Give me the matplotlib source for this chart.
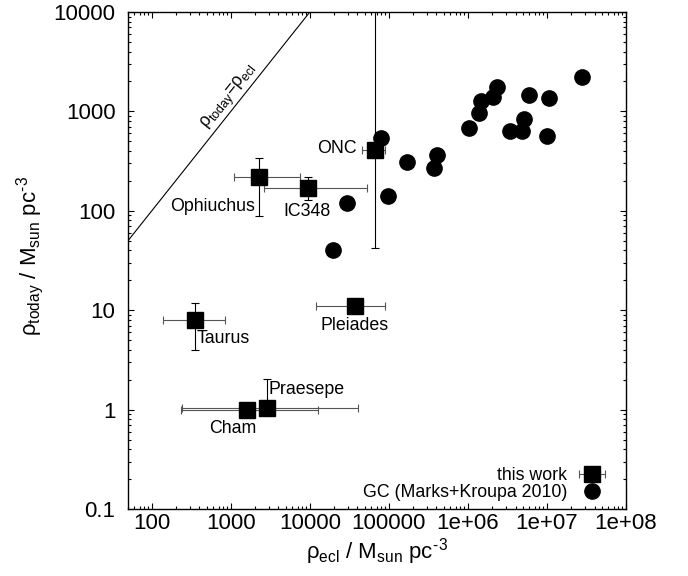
import numpy as np
import matplotlib
matplotlib.use('Agg')
import matplotlib.pyplot as plt
from matplotlib.container import ErrorbarContainer
from matplotlib.legend_handler import HandlerErrorbar

plt.rcParams['font.family'] = ['Liberation Sans', 'DejaVu Sans']
plt.rcParams['mathtext.default'] = 'regular'

# this work: clusters, rho_ecl (with range) and rho_today (with range)
names = ['Taurus', 'Ophiuchus', 'IC348', 'ONC', 'Pleiades', 'Cham', 'Praesepe']
rho_ecl = [350, 2300, 9500, 67000, 37300, 1590, 2850]
rho_ecl_lo = [140, 1100, 2640, 45800, 12000, 234, 239]
rho_ecl_hi = [845, 7500, 53000, 89500, 89500, 12700, 40500]
rho_today = [8.0, 220, 170, 410, 11.0, 0.99, 1.04]
rho_today_lo = [4.0, 89, 128, 42, 11.0, 0.99, 1.04]
rho_today_hi = [11.9, 340, 219, 30000, 11.0, 0.99, 2.03]

# globular clusters (Marks+Kroupa 2010)
gc_ecl = [79000, 169000, 404000, 373000, 98600, 29900, 19900, 1.045e6, 1.39e6,
          1.46e6, 2.07e6, 2.32e6, 6.0e6, 1.05e7, 3.42e6, 4.82e6, 5.05e6, 9.98e6, 2.77e7]
gc_today = [543, 312, 364, 271, 141, 121, 40, 676, 970,
            1273, 1406, 1747, 1462, 1374, 640, 640, 839, 566, 2234]

xticks = [100, 1000, 10000, 100000, 1e6, 1e7, 1e8]
xticklabels = ['100', '1000', '10000', '100000', '1e+06', '1e+07', '1e+08']
yticks = [0.1, 1, 10, 100, 1000, 10000]
yticklabels = ['0.1', '1', '10', '100', '1000', '10000']

# label offsets (pixels) and alignment
lab_off = {'Taurus': (2, -19, 'left'), 'Ophiuchus': (-4, -30, 'right'),
           'IC348': (-1, -24, 'center'), 'ONC': (-18, 1, 'right'),
           'Pleiades': (0, -19, 'center'), 'Cham': (-14, -18, 'center'),
           'Praesepe': (2, 18, 'left')}

fig = plt.figure(figsize=(6.88, 5.76), dpi=100)
ax = fig.add_axes([128/688, 1-509/576, 498/688, 497/576])
ax.set_xscale('log')
ax.set_yscale('log')
ax.set_xlim(50, 1e8)
ax.set_ylim(0.1, 10000)

# rho_today = rho_ecl line
lx = np.array(ax.get_xlim())
ax.plot(lx, lx, color='black', lw=0.8)

x = np.array(rho_ecl)
y = np.array(rho_today)
xerr = [x - np.array(rho_ecl_lo), np.array(rho_ecl_hi) - x]
yerr = [y - np.array(rho_today_lo), np.array(rho_today_hi) - y]

ax.errorbar(x, y, yerr=yerr, fmt='none', ecolor='black', elinewidth=0.8,
            capsize=3, capthick=0.8, zorder=2)
eb = ax.errorbar(x, y, xerr=xerr, fmt='s', color='black', ms=12.2,
                 ecolor='#555555', elinewidth=0.8, capsize=3, capthick=0.8,
                 label='this work', zorder=3)
gc, = ax.plot(gc_ecl, gc_today, 'o', color='black', ms=11,
              label='GC (Marks+Kroupa 2010)', zorder=3)

for i, n in enumerate(names):
    dx, dy, ha = lab_off[n]
    ax.annotate(n, (x[i], y[i]), xytext=(dx, dy), textcoords='offset pixels',
                ha=ha, va='center', fontsize=12.8)

# diagonal label, rotated along the line
p0 = ax.transData.transform((100, 100))
p1 = ax.transData.transform((10000, 10000))
ang = np.degrees(np.arctan2(p1[1]-p0[1], p1[0]-p0[0]))
ax.text(980, 1400, r'ρ$_{today}$=ρ$_{ecl}$', rotation=ang, rotation_mode='anchor',
        ha='center', va='center', fontsize=12.8)

ax.set_xticks(xticks)
ax.set_xticklabels(xticklabels)
ax.set_yticks(yticks)
ax.set_yticklabels(yticklabels)
ax.tick_params(which='both', direction='in', top=True, right=True, width=0.8)
ax.tick_params(which='major', length=4.3, labelsize=16)
ax.tick_params(axis='x', which='major', pad=3)
ax.tick_params(axis='y', which='major', pad=9)
ax.tick_params(which='minor', length=2.5)
for s in ax.spines.values():
    s.set_linewidth(1.0)

ax.set_xlabel('ρ$_{ecl}$ / M$_{sun}$ pc$^{\u2010}$$^{3}$', fontsize=16)
ax.set_ylabel('ρ$_{today}$ / M$_{sun}$ pc$^{\u2010}$$^{3}$', fontsize=16)
ax.xaxis.set_label_coords(0.5, -0.055)
ax.yaxis.set_label_coords(-0.165, 0.51)

ax.legend([eb, gc], ['this work', 'GC (Marks+Kroupa 2010)'],
          loc='lower right', bbox_to_anchor=(0.96, 0.016), frameon=False,
          markerfirst=False, fontsize=12.8, borderpad=0, borderaxespad=0,
          handlelength=1.6, handletextpad=0.6, labelspacing=0.0,
          handler_map={ErrorbarContainer: HandlerErrorbar(xerr_size=0.73)})

fig.savefig('out.png', dpi=100)
